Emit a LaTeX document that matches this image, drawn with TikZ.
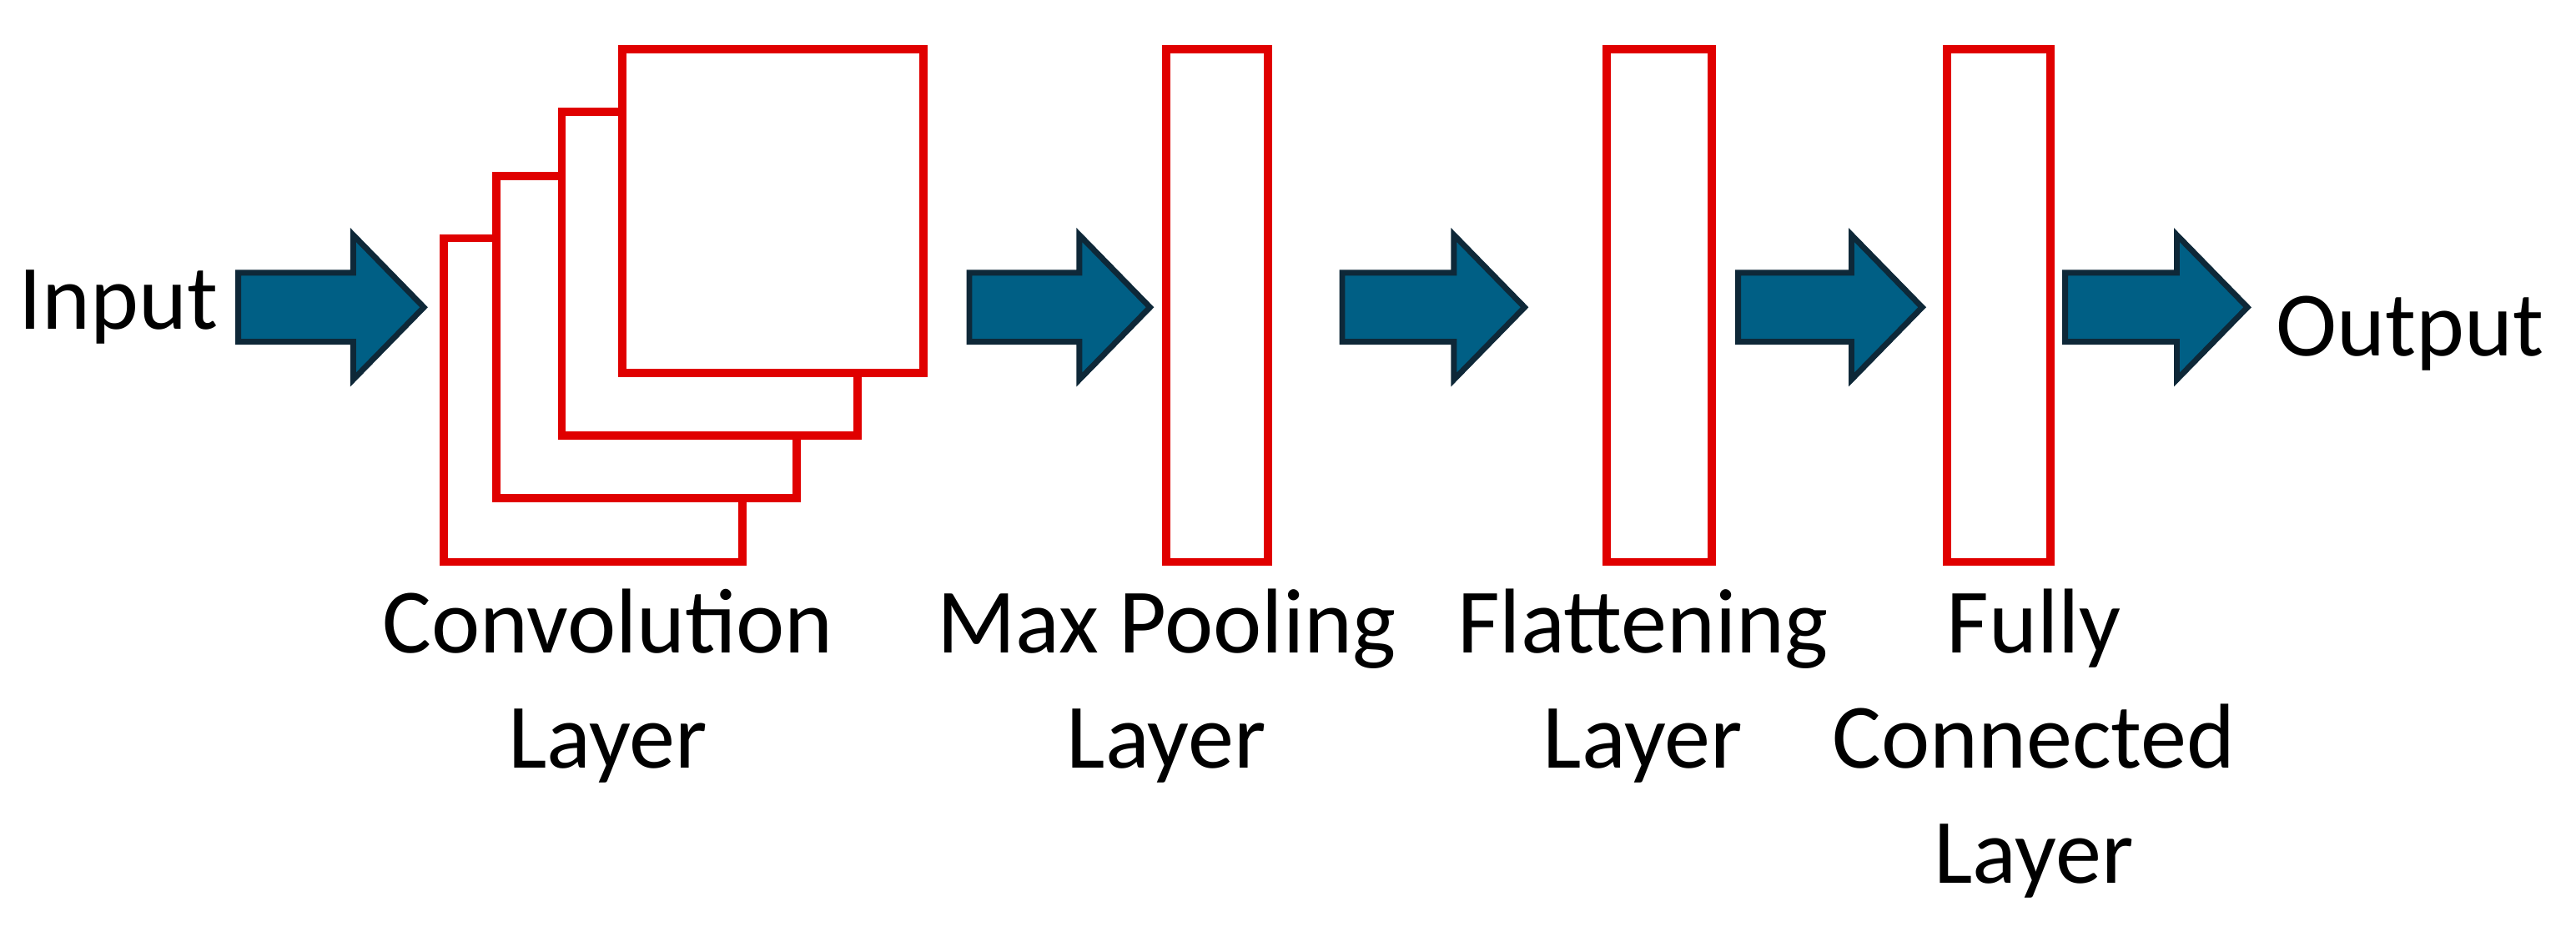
\documentclass[tikz,border=0pt]{standalone}
\usepackage{fontspec}
\setmainfont{Carlito}
\definecolor{afill}{HTML}{005F85}
\definecolor{aline}{HTML}{0E2838}
\definecolor{bred}{HTML}{E00000}
\begin{document}
\begin{tikzpicture}[x=1pt,y=-1pt,
  box/.style={draw=bred,line width=5pt,fill=white},
  arr/.style={draw=aline,fill=afill,line width=3.5pt,line join=miter},
  lab/.style={font=\fontsize{56}{70}\selectfont,align=center,anchor=north}]
\useasboundingbox (0,0) rectangle (1568,576);
\newcommand\myarrow[2]{\draw[arr] (#1,166) -- (#2-43,166) -- (#2-43,143) -- (#2,187) -- (#2-43,231) -- (#2-43,208) -- (#1,208) -- cycle;}
\node[font=\fontsize{56}{60}\selectfont,anchor=west] (in) at (8,187) {Input};
\myarrow{145}{258}
\draw[box] (270,145) rectangle (452,342);
\draw[box] (302,107) rectangle (485,303);
\draw[box] (342,68) rectangle (522,265);
\draw[box] (379,30) rectangle (562,227);
\myarrow{590}{700}
\draw[box] (710,30) rectangle (772,342);
\myarrow{817}{928}
\draw[box] (978,30) rectangle (1042,342);
\myarrow{1058}{1170}
\draw[box] (1185,30) rectangle (1248,342);
\myarrow{1257}{1368}
\node[font=\fontsize{56}{60}\selectfont,anchor=west] (out) at (1382,203) {Output};
\node[lab] (l1) at (370,355) {Convolution\\Layer};
\node[lab] (l2) at (710,355) {Max Pooling\\Layer};
\node[lab] (l3) at (1000,355) {Flattening\\Layer};
\node[lab] (l4) at (1238,355) {Fully\\Connected\\Layer};
\end{tikzpicture}
\end{document}
